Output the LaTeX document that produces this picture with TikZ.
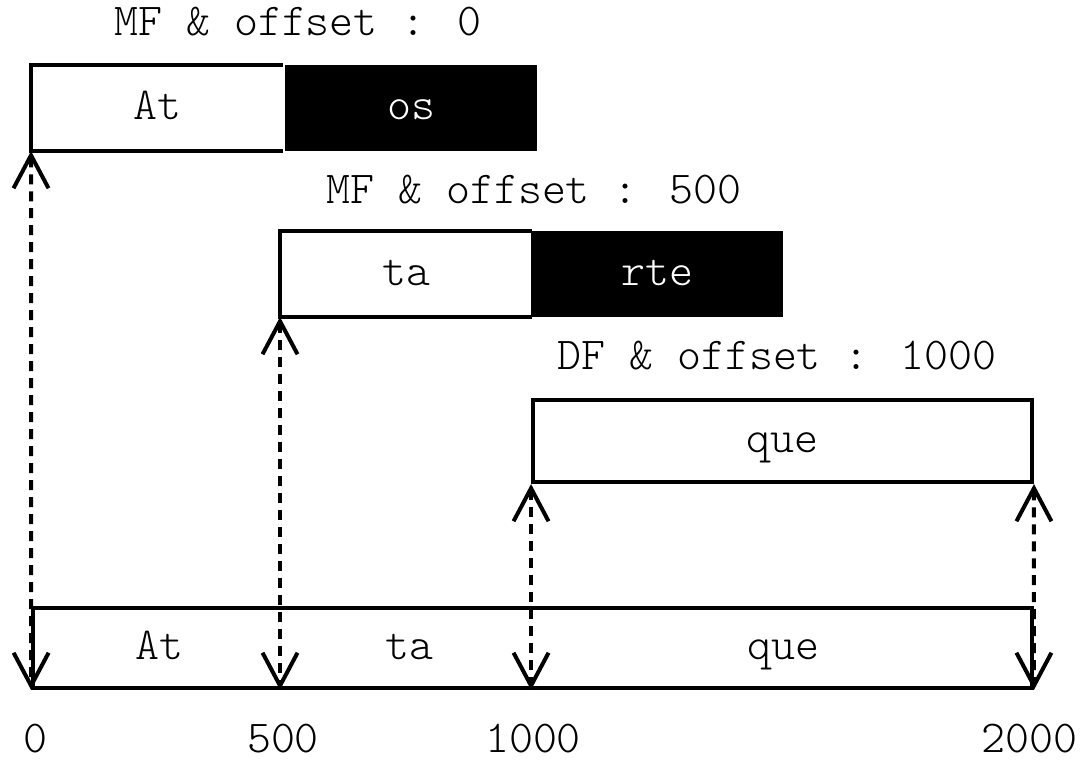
\documentclass[tikz,border=0pt]{standalone}
\usepackage{tikz}
\usetikzlibrary{arrows.meta, positioning}

\begin{document}
\begin{tikzpicture}[
      x=0.02cm, y=-0.02cm, line width=0.08cm,
      every node/.style={font=\ttfamily\fontseries{l}\fontsize{26}{30}\selectfont,
          inner sep=0pt, text height=0.46cm, text depth=0pt},
      seg/.style={minimum width=4.96cm, minimum height=1.64cm},
      blk/.style={seg, draw=black, fill=black, text=white},
      link/.style={dash pattern=on 0.2cm off 0.14cm,
          {Straight Barb[length=0.66cm, width=0.7cm]}-{Straight Barb[length=0.66cm, width=0.7cm]}}
      ]
      \useasboundingbox (0,0) rectangle (1087,760);

      % MF, offset 0
      \node (l_0) at (298,24) {MF \& offset : 0};
      \node[seg] (at1) at (157,108) {At};
      \node[blk] (os)  at (411,108) {os};
      \draw (at1.north east) -- (at1.north west) -- (at1.south west) -- (at1.south east);

      % MF, offset 500
      \node (l_1) at (534,192) {MF \& offset : 500};
      \node[seg] (ta1) at (406,274) {ta};
      \node[blk] (rte) at (657,274) {rte};
      \draw (ta1.north east) -- (ta1.north west) -- (ta1.south west) -- (ta1.south east);

      % DF, offset 1000
      \node (l_2) at (777,358) {DF \& offset : 1000};
      \node[seg, draw, minimum width=9.98cm] (que1) at (782.5,441) {que};

      % reassembled datagram
      \node[draw, minimum width=19.98cm, minimum height=1.6cm] (row) at (532.5,648) {};
      \node at (159,648) {At};
      \node at (409,648) {ta};
      \node at (783,648) {que};

      \path[link] (at1.south west) edge (row.south west)
                  (ta1.south west) edge (ta1.south west |- row.south)
                  (que1.south west) edge (que1.south west |- row.south)
                  (que1.south east) edge (row.south east);

      % offsets
      \node at (35,741)   {0};
      \node at (283,741)  {500};
      \node at (533,741)  {1000};
      \node at (1029,741) {2000};
    \end{tikzpicture}
\end{document}
